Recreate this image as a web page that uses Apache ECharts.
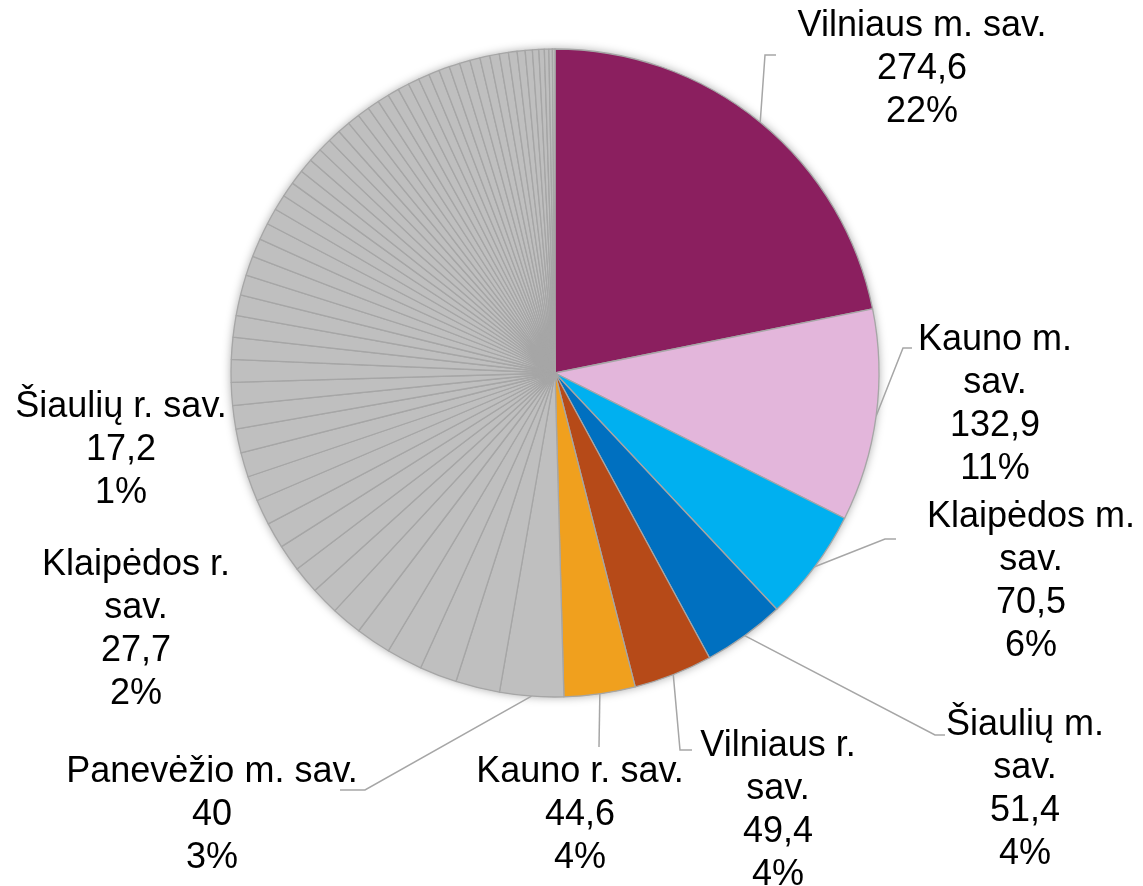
<!DOCTYPE html>
<html>
<head>
<meta charset="utf-8">
<script src="https://cdn.jsdelivr.net/npm/echarts@6/dist/echarts.min.js"></script>
<style>
  html, body { margin: 0; padding: 0; background: #fff; }
  #main { width: 1143px; height: 886px; }
</style>
</head>
<body>
<div id="main"></div>
<script>
// savivaldybės, pagal laikrodžio rodyklę nuo viršaus (neužvardinti - pilki)
var names = ['Vilniaus m. sav.', 'Kauno m. sav.', 'Klaipėdos m. sav.', 'Šiaulių m. sav.',
  'Vilniaus r. sav.', 'Kauno r. sav.', 'Panevėžio m. sav.', 'Klaipėdos r. sav.',
  '', '', '', '', '', 'Šiaulių r. sav.'];
var values = [274.6, 132.9, 70.5, 51.4, 49.4, 44.6, 40, 27.7,
  23.4, 22.6, 22.1, 19.3, 17.6, 17.2, 16.8, 16.3, 16.0, 15.7, 15.4, 15.0, 14.7, 14.4,
  14.2, 13.8, 13.5, 13.0, 12.7, 12.3, 11.5,
  10.6, 10.2, 9.8, 9.5, 9.2, 8.9, 8.6, 8.3, 8.0,
  7.9, 7.7, 7.6, 7.4, 7.3, 7.2, 7.1, 7.0, 6.9, 6.8, 6.7,
  6.7, 6.6, 6.4, 6.2, 6.0, 5.7, 5.4, 5.0, 4.5, 4.0, 3.4, 2.8, 2.2, 1.6];
var colors = ['#8B1F5F', '#E3B6DB', '#00B0F0', '#0070C0', '#B64A18', '#F0A01E'];
var otherColor = '#BFBFBF';

// kur Excel'is padėjo etiketes (teksto bloko centras)
var labelSpots = {
  'Vilniaus m. sav.': [922, 69],
  'Kauno m. sav.': [995, 405],
  'Klaipėdos m. sav.': [1031, 582],
  'Šiaulių m. sav.': [1025, 790],
  'Vilniaus r. sav.': [778, 811],
  'Kauno r. sav.': [580, 815],
  'Panevėžio m. sav.': [212, 815],
  'Klaipėdos r. sav.': [136, 630],
  'Šiaulių r. sav.': [121, 450]
};
// linijos lūžis ir galas prie etiketės
var leaderEnds = {
  'Vilniaus m. sav.': [765, 55, 776, 55],
  'Kauno m. sav.': [903, 348, 912, 348],
  'Klaipėdos m. sav.': [885, 539, 896, 539],
  'Šiaulių m. sav.': [935, 735, 945, 735],
  'Vilniaus r. sav.': [680, 750, 692, 750],
  'Kauno r. sav.': [599, 747, 599, 747],
  'Panevėžio m. sav.': [365, 790, 340, 790]
};
var wrapped = ['Kauno m. sav.', 'Klaipėdos m. sav.', 'Šiaulių m. sav.', 'Vilniaus r. sav.', 'Klaipėdos r. sav.'];
var noLine = ['Klaipėdos r. sav.', 'Šiaulių r. sav.'];

var data = values.map(function (v, i) {
  var name = names[i] || '';
  var item = {
    name: name || ('_' + i),
    value: v,
    itemStyle: { color: colors[i] || otherColor }
  };
  if (!name) {
    item.label = { show: false };
    item.labelLine = { show: false };
  } else if (noLine.indexOf(name) >= 0) {
    item.labelLine = { show: false };
  }
  return item;
});

var chart = echarts.init(document.getElementById('main'));
chart.setOption({
  animation: false,
  series: [
    {
      // tik šešėlis po skrituliu
      type: 'pie',
      silent: true,
      center: [555, 373],
      radius: 324,
      label: { show: false },
      labelLine: { show: false },
      itemStyle: { color: '#BFBFBF', shadowBlur: 10, shadowColor: 'rgba(0,0,0,0.35)' },
      data: [1],
      z: 1
    },
    {
      type: 'pie',
      center: [555, 373],
      radius: 324,
      startAngle: 90,
      clockwise: true,
      avoidLabelOverlap: false,
      z: 2,
      itemStyle: { borderColor: '#A6A6A6', borderWidth: 1.3 },
      label: {
        show: true,
        position: 'outside',
        fontFamily: 'Liberation Sans, Arial, sans-serif',
        fontSize: 36,
        lineHeight: 43,
        color: '#000',
        align: 'center',
        formatter: function (p) {
          var n = p.name;
          if (wrapped.indexOf(n) >= 0) n = n.replace(/ sav\.$/, '\nsav.');
          return n + '\n' + String(p.value).replace('.', ',') + '\n' + Math.round(p.percent) + '%';
        }
      },
      labelLine: {
        show: true,
        length: 20,
        length2: 12,
        lineStyle: { color: '#A6A6A6', width: 1.5 }
      },
      labelLayout: function (params) {
        var name = names[params.dataIndex];
        var spot = labelSpots[name];
        if (!spot) return {};
        var out = { x: spot[0], y: spot[1], align: 'center', verticalAlign: 'middle' };
        var le = leaderEnds[name];
        if (le && params.labelLinePoints) {
          var p0 = params.labelLinePoints[0];
          out.labelLinePoints = [p0, [le[0], le[1]], [le[2], le[3]]];
        }
        return out;
      },
      data: data
    }
  ]
});
</script>
</body>
</html>
